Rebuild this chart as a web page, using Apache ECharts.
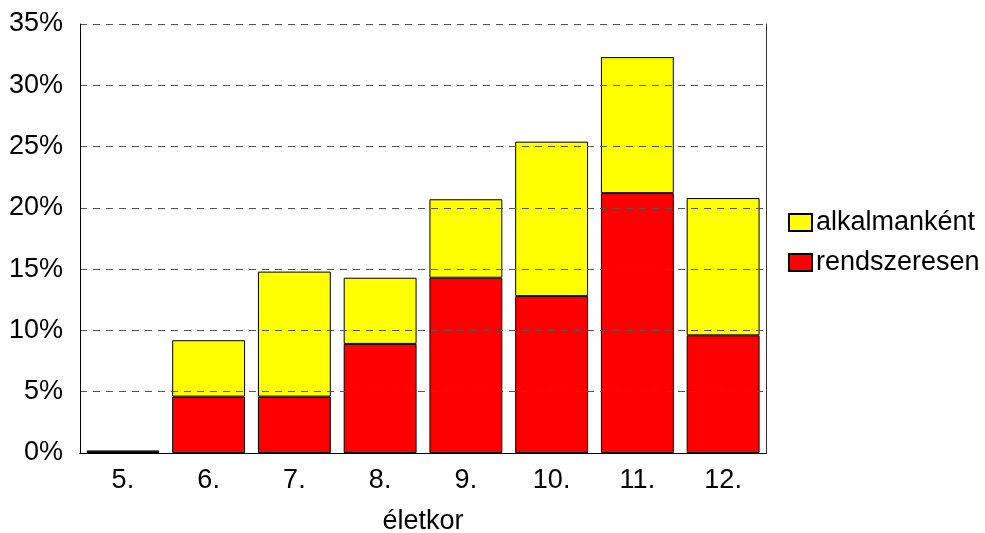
<!DOCTYPE html>
<html>
<head>
<meta charset="utf-8">
<script src="https://cdn.jsdelivr.net/npm/echarts@6/dist/echarts.min.js"></script>
<style>
html,body{margin:0;padding:0;background:#fff;}
#chart{width:985px;height:533px;}
</style>
</head>
<body>
<div id="chart"></div>
<script>
var categories = ['5.', '6.', '7.', '8.', '9.', '10.', '11.', '12.'];
var rendszeresen = [0.1, 4.6, 4.6, 8.9, 14.3, 12.8, 21.2, 9.6];
var alkalmankent = [0.1, 4.6, 10.2, 5.4, 6.4, 12.6, 11.1, 11.2];
var yTicks = [0, 5, 10, 15, 20, 25, 30, 35];

var font = 'Liberation Sans, Arial, sans-serif';
var chart = echarts.init(document.getElementById('chart'));
chart.setOption({
  animation: false,
  backgroundColor: '#fff',
  grid: { left: 80, right: 219, top: 24, bottom: 80, containLabel: false, outerBoundsMode: 'none' },
  legend: {
    orient: 'vertical',
    left: 788,
    top: 209,
    padding: 0,
    icon: 'rect',
    itemWidth: 23,
    itemHeight: 17,
    itemGap: 13,
    textStyle: { fontFamily: font, fontSize: 27, color: '#000', lineHeight: 27, padding: [0, 0, 0, -1] },
    data: ['alkalmanként', 'rendszeresen']
  },
  xAxis: [{
    type: 'category',
    data: categories,
    name: 'életkor',
    nameLocation: 'middle',
    nameGap: 55,
    nameTextStyle: { fontFamily: font, fontSize: 27, color: '#000' },
    axisLine: { lineStyle: { color: '#000', width: 1 } },
    axisTick: { show: false },
    axisLabel: { fontFamily: font, fontSize: 27, color: '#000', margin: 14 },
    z: 10
  }, {
    type: 'category',
    data: categories,
    position: 'top',
    axisLine: { show: true, lineStyle: { color: '#000', width: 1 } },
    axisTick: { show: false },
    axisLabel: { show: false },
    z: 10
  }],
  yAxis: [{
    type: 'value',
    min: yTicks[0],
    max: yTicks[yTicks.length - 1],
    interval: 5,
    axisLine: { show: true, lineStyle: { color: '#000', width: 1 } },
    axisTick: { show: false },
    axisLabel: { fontFamily: font, fontSize: 27, color: '#000', margin: 17, formatter: '{value}%' },
    splitLine: { show: true, lineStyle: { color: '#555', type: [7, 6], width: 1 } },
    z: 10
  }, {
    type: 'value',
    position: 'right',
    min: yTicks[0],
    max: yTicks[yTicks.length - 1],
    interval: 5,
    axisLine: { show: true, lineStyle: { color: '#333', width: 1 } },
    axisTick: { show: false },
    axisLabel: { show: false },
    splitLine: { show: false },
    z: 10
  }],
  series: [{
    name: 'rendszeresen',
    type: 'bar',
    stack: 'total',
    data: rendszeresen,
    barCategoryGap: '15%',
    itemStyle: { color: '#ff0000', borderColor: '#000', borderWidth: 1 }
  }, {
    name: 'alkalmanként',
    type: 'bar',
    stack: 'total',
    data: alkalmankent,
    barCategoryGap: '15%',
    itemStyle: { color: '#ffff00', borderColor: '#000', borderWidth: 1 }
  }]
});
</script>
</body>
</html>
